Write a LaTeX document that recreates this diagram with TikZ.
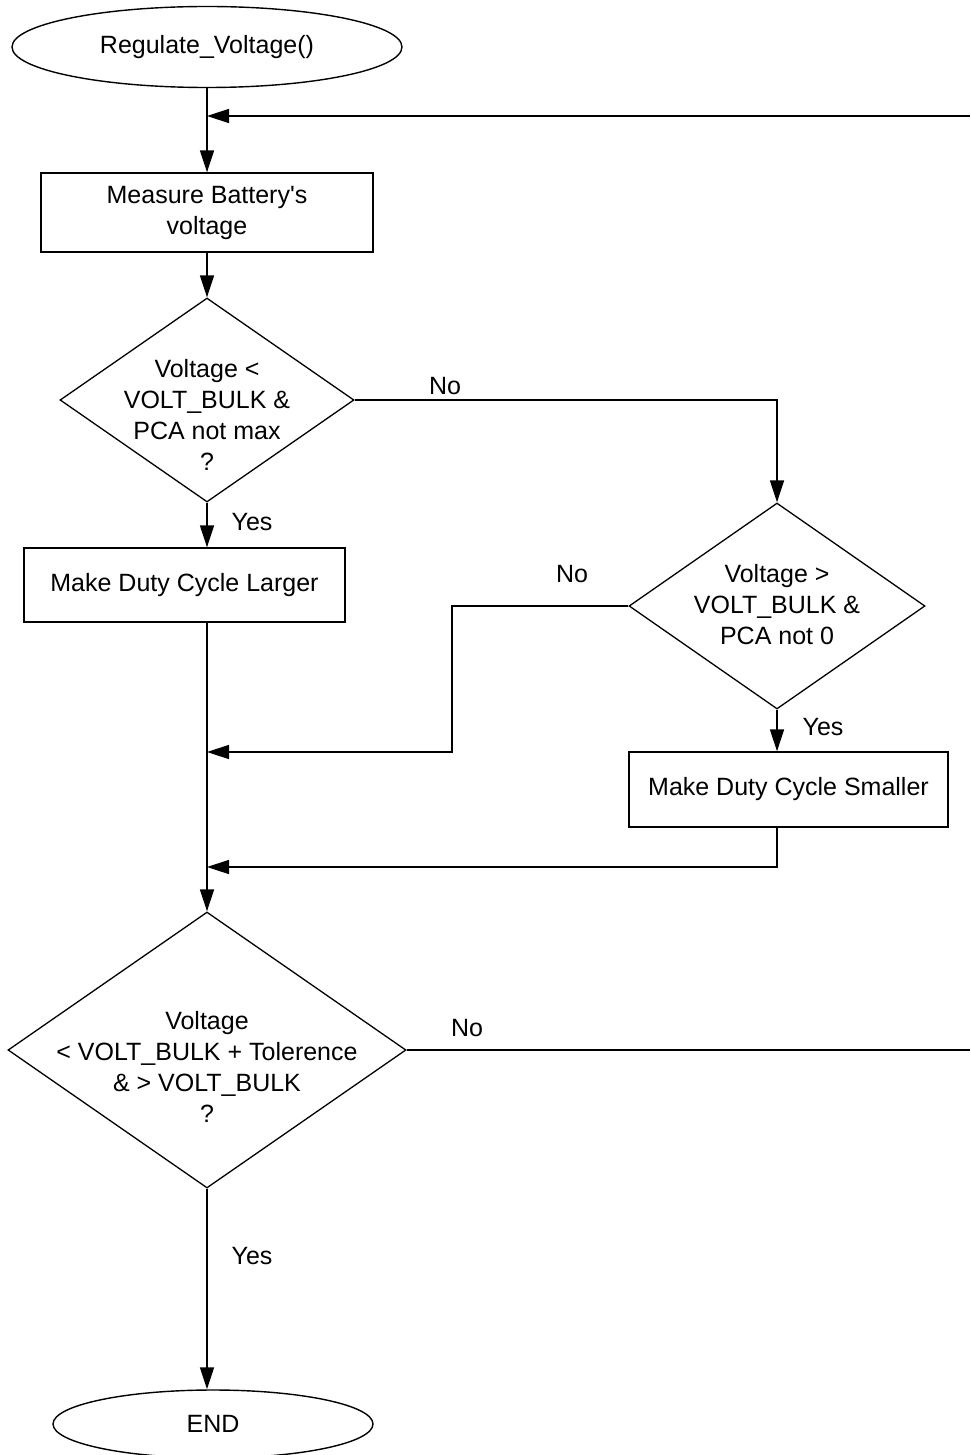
\documentclass[tikz,border=0pt]{standalone}
\usepackage{fontspec}
\setmainfont{Liberation Sans}[Ligatures=TeXOff]
\usetikzlibrary{shapes.geometric,arrows.meta}
\begin{document}
\begin{tikzpicture}[x=1pt,y=-1pt,
  every node/.style={font=\fontsize{25}{31}\selectfont},
  term/.style={draw, ellipse, line width=1.4pt, inner sep=0pt},
  proc/.style={draw, rectangle, line width=1.3pt, inner sep=0pt, align=center},
  dec/.style={draw, diamond, line width=1.3pt, inner sep=0pt},
  lbl/.style={align=center, inner sep=0pt},
  flow/.style={line width=1.5pt},
  arrow/.style={flow, -{Triangle[length=22pt,width=14pt]}}]
\useasboundingbox (0,0) rectangle (970,1455);
% shapes
\node[term, minimum width=390pt, minimum height=81pt] (start) at (207,47) {Regulate\_Voltage()};
\node[proc, minimum width=332pt, minimum height=79pt] (meas) at (207,212.5) {Measure Battery's\\voltage};
\node[dec, minimum width=294pt, minimum height=204pt] (d1) at (207,400) {};
\node[lbl] (d1t) at (207,415) {Voltage <\\VOLT\_BULK \&\\PCA not max\\?};
\node[proc, minimum width=321pt, minimum height=74pt] (larger) at (184.5,585) {Make Duty Cycle Larger};
\node[dec, minimum width=296pt, minimum height=206pt] (d2) at (777,606) {};
\node[lbl] (d2t) at (777,605) {Voltage >\\VOLT\_BULK \&\\PCA not 0};
\node[proc, minimum width=319pt, minimum height=75pt] (smaller) at (788.5,789.5) {Make Duty Cycle Smaller};
\node[dec, minimum width=398pt, minimum height=276pt] (d3) at (207,1050) {};
\node[lbl] (d3t) at (207,1067) {Voltage\\< VOLT\_BULK + Tolerence\\\& > VOLT\_BULK\\?};
\node[term, minimum width=320pt, minimum height=68pt] (end) at (213,1424) {END};
% labels
\node[lbl] (no1) at (445,386) {No};
\node[lbl] (yes1) at (252,522) {Yes};
\node[lbl] (no2) at (572,574) {No};
\node[lbl] (yes2) at (823,727) {Yes};
\node[lbl] (no3) at (467,1028) {No};
\node[lbl] (yes3) at (252,1256) {Yes};
% coordinates
\coordinate (topR) at (970,116);
\coordinate (j1) at (207,116);
\coordinate (bend) at (452,752);
\coordinate (m1) at (207,752);
\coordinate (m2) at (207,867);
\coordinate (rightR) at (970,1050);
% connectors
\draw[flow] (start.south) -- (j1);
\draw[arrow] (topR) -- (j1);
\draw[arrow] (j1) -- (meas.north);
\draw[arrow] (meas.south) -- (d1.north);
\draw[arrow] (d1.east) -| (d2.north);
\draw[arrow] (d1.south) -- (larger.north -| d1.south);
\draw[arrow] (larger.south -| d1.south) -- (d3.north);
\draw[arrow] (d2.west) -| (bend) -- (m1);
\draw[arrow] (d2.south) -- (smaller.north -| d2.south);
\draw[arrow] (smaller.south -| d2.south) |- (m2);
\draw[flow] (d3.east) -- (rightR);
\draw[arrow] (d3.south) -- (end.north -| d3.south);
\end{tikzpicture}
\end{document}
